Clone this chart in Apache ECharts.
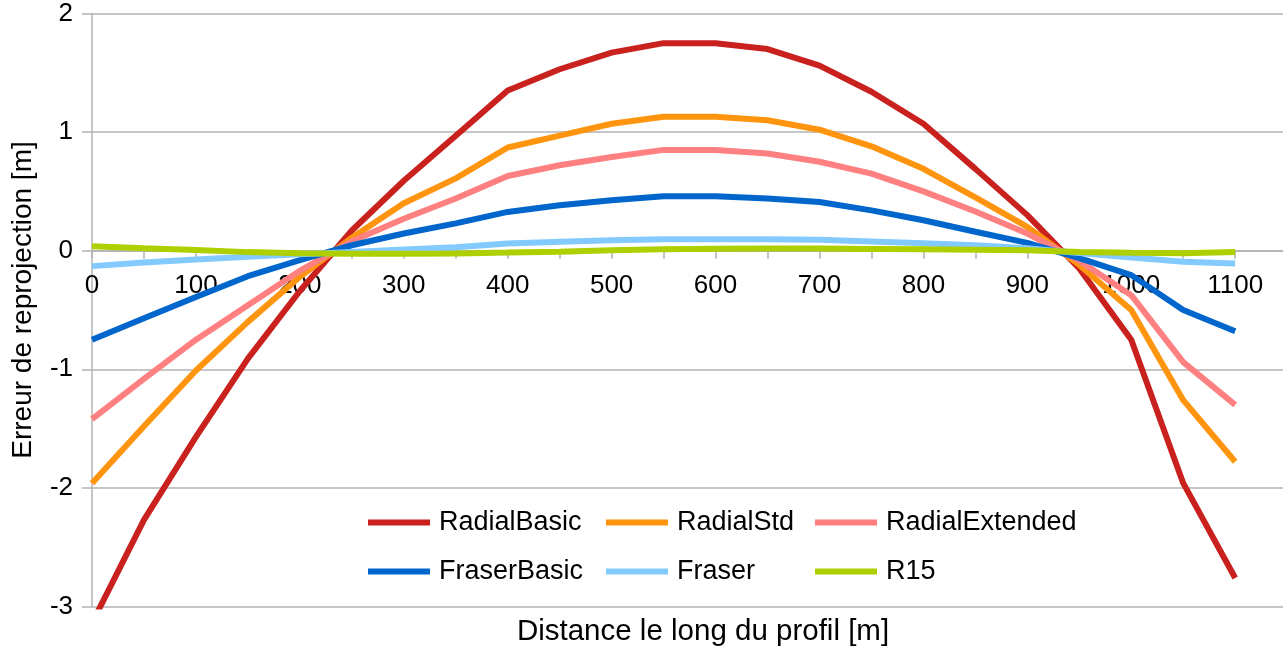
<!DOCTYPE html>
<html>
<head>
<meta charset="utf-8">
<script src="https://cdn.jsdelivr.net/npm/echarts@6/dist/echarts.min.js"></script>
<style>
html,body{margin:0;padding:0;background:#fff;}
#chart{width:1283px;height:649px;}
</style>
</head>
<body>
<div id="chart"></div>
<script>
const distances = [0, 50, 100, 150, 200, 250, 300, 350, 400, 450, 500, 550, 600, 650, 700, 750, 800, 850, 900, 950, 1000, 1050, 1100];
const seriesNames = ['RadialBasic', 'RadialStd', 'RadialExtended', 'FraserBasic', 'Fraser', 'R15'];
const radialBasic    = [-3.14, -2.27, -1.57, -0.91, -0.34, 0.17, 0.59, 0.97, 1.35, 1.53, 1.67, 1.75, 1.75, 1.70, 1.56, 1.34, 1.07, 0.69, 0.30, -0.15, -0.75, -1.96, -2.76];
const radialStd      = [-1.96, -1.48, -1.01, -0.60, -0.22, 0.11, 0.40, 0.61, 0.87, 0.97, 1.07, 1.13, 1.13, 1.10, 1.02, 0.88, 0.69, 0.45, 0.20, -0.12, -0.50, -1.26, -1.78];
const radialExtended = [-1.42, -1.08, -0.75, -0.46, -0.17, 0.08, 0.27, 0.44, 0.63, 0.72, 0.79, 0.85, 0.85, 0.82, 0.75, 0.65, 0.50, 0.33, 0.145, -0.085, -0.375, -0.94, -1.30];
const fraserBasic    = [-0.75, -0.57, -0.39, -0.215, -0.08, 0.046, 0.145, 0.23, 0.327, 0.383, 0.425, 0.46, 0.46, 0.44, 0.41, 0.34, 0.257, 0.16, 0.066, -0.063, -0.206, -0.50, -0.68];
const fraser         = [-0.13, -0.10, -0.075, -0.05, -0.03, -0.01, 0.01, 0.03, 0.06, 0.075, 0.088, 0.097, 0.097, 0.097, 0.092, 0.078, 0.062, 0.046, 0.02, -0.02, -0.057, -0.094, -0.108];
const r15            = [0.038, 0.02, 0.005, -0.012, -0.022, -0.025, -0.025, -0.023, -0.016, -0.008, 0.004, 0.012, 0.016, 0.018, 0.018, 0.015, 0.012, 0.008, 0.004, -0.01, -0.018, -0.022, -0.01];
const yTicks = [-3, -2, -1, 0, 1, 2];
const xTickLabels = [0, 100, 200, 300, 400, 500, 600, 700, 800, 900, 1000, 1100];
const yTitle = 'Erreur de reprojection [m]';
const xTitle = 'Distance le long du profil [m]';

const allValues = [radialBasic, radialStd, radialExtended, fraserBasic, fraser, r15];
const colors = ['#c9211e', '#ff950e', '#ff8080', '#0066cc', '#83caff', '#aecf00'];
const FONT = 'Liberation Sans';
const GRAY = '#b3b3b3';

const chart = echarts.init(document.getElementById('chart'), null, {renderer: 'canvas'});

const GRID_TOP = 13.5, GRID_BOTTOM = 42.5, H = 649;
const plotH = H - GRID_TOP - GRID_BOTTOM;
const zeroOffset = -plotH * (3 / 5); // move x axis from y=-3 up to y=0

const legendPos = [
  {left: 368, top: 509}, {left: 606, top: 509}, {left: 815, top: 509},
  {left: 368, top: 558}, {left: 606, top: 558}, {left: 815, top: 558}
];

const option = {
  animation: false,
  backgroundColor: '#ffffff',
  color: colors,
  grid: {left: 92, top: GRID_TOP, bottom: GRID_BOTTOM, right: 0, containLabel: false},
  legend: seriesNames.map((n, i) => ({
    data: [n],
    left: legendPos[i].left,
    top: legendPos[i].top,
    icon: 'rect',
    itemWidth: 62,
    itemHeight: 6,
    itemGap: 0,
    padding: 0,
    textStyle: {fontFamily: FONT, fontSize: 27, color: '#000', padding: [0, 0, 0, 4]},
    selectedMode: false
  })),
  xAxis: {
    type: 'value',
    position: 'bottom',
    min: 0,
    max: 1146,
    interval: 50,
    offset: zeroOffset,
    axisLine: {onZero: false, lineStyle: {color: GRAY, width: 1.5}},
    axisTick: {show: true, length: 8, lineStyle: {color: GRAY, width: 1.5}},
    axisLabel: {
      fontFamily: FONT, fontSize: 26, color: '#000', margin: 22,
      showMaxLabel: false,
      formatter: v => xTickLabels.indexOf(v) >= 0 ? String(v) : ''
    },
    splitLine: {show: false}
  },
  yAxis: {
    type: 'value',
    min: -3,
    max: 2,
    interval: 1,
    axisLine: {show: true, lineStyle: {color: GRAY, width: 1.5}},
    axisTick: {show: true, length: 10, lineStyle: {color: GRAY, width: 1.5}},
    axisLabel: {
      fontFamily: FONT, fontSize: 26, color: '#000', margin: 19,
      formatter: v => yTicks.indexOf(v) >= 0 ? String(v) : ''
    },
    splitLine: {show: true, lineStyle: {color: GRAY, width: 1.5}}
  },
  graphic: [{
    type: 'text',
    x: 703, y: 632,
    style: {
      text: xTitle,
      fontFamily: FONT, fontSize: 29.5, fill: '#000',
      align: 'center', verticalAlign: 'middle'
    }
  }, {
    type: 'text',
    x: 23, y: 300,
    rotation: Math.PI / 2,
    style: {
      text: yTitle,
      fontFamily: FONT, fontSize: 28, fill: '#000',
      align: 'center', verticalAlign: 'middle'
    }
  }],
  series: seriesNames.map((n, i) => ({
    name: n,
    type: 'line',
    symbol: 'none',
    clip: true,
    lineStyle: {width: 6, color: colors[i]},
    itemStyle: {color: colors[i]},
    data: distances.map((d, j) => [d, allValues[i][j]])
  }))
};
chart.setOption(option);
</script>
</body>
</html>
